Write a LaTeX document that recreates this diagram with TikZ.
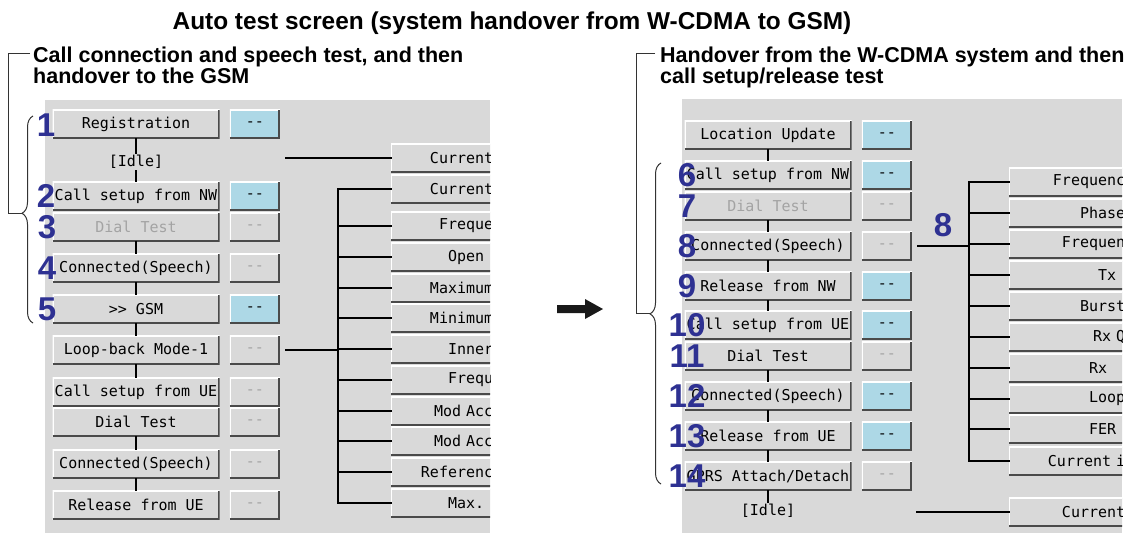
\documentclass[tikz,border=0pt]{standalone}
\usepackage{fontspec}
\setmainfont{Liberation Sans}
\newfontfamily\scrfont{DejaVu Sans Mono}
\usetikzlibrary{positioning}
\usetikzlibrary{decorations.pathreplacing}
\definecolor{panel}{HTML}{D9D9D9}
\definecolor{keyblue}{HTML}{ADD8E6}
\definecolor{keyshade}{HTML}{4A4A4A}
\definecolor{numblue}{HTML}{2E3192}
\definecolor{dimtext}{HTML}{A3A3A3}
\newcommand{\scrtxt}{\scrfont\fontsize{15}{15}\selectfont}
\newcommand{\numtxt}{\bfseries\fontsize{33}{33}\selectfont}
\newcommand{\headtxt}{\bfseries\fontsize{21.5}{25}\selectfont}
\newcommand{\titletxt}{\bfseries\fontsize{24.4}{28}\selectfont}
\newcommand{\dashes}{-\kern0pt-}
\newcommand{\gts}{>\kern0pt>}
\tikzset{
  bevel/.style = {path picture = {
      \draw [white, line width = 2.5pt] (path picture bounding box.south west) |- (path picture bounding box.north east);
      \draw [keyshade, line width = 3.5pt] (path picture bounding box.south west) -| (path picture bounding box.north east);}},
  key/.style = {bevel, fill = panel, minimum width = 167pt, minimum height = 29pt, inner sep = 0pt, font = \scrtxt},
  tag/.style = {bevel, fill = panel, minimum width = 50pt, minimum height = 29pt, inner sep = 0pt, font = \scrtxt, text = dimtext},
  tagon/.style = {tag, fill = keyblue, text = black},
  meas/.style = {bevel, fill = panel, anchor = west, minimum height = 29pt, inner xsep = 2pt, inner ysep = 0pt, text width = #1, align = right, font = \scrtxt},
  idle/.style = {inner sep = 2pt, font = \scrtxt},
  num/.style = {inner sep = 0pt, text = numblue, font = \numtxt},
  head/.style = {anchor = base west, inner sep = 0pt, font = \headtxt},
  link/.style = {line width = 2pt, line cap = rect},
  hand/.style = {line width = 1pt, black!80}
}

\begin{document}
\begin{tikzpicture}[x = 1pt, y = -1pt]
  \useasboundingbox (0, 0) rectangle (1136, 533);
  \fill [white] (0, 0) rectangle (1136, 533);
  \fill [panel] (45, 100) rectangle (490, 533);
  \fill [panel] (682, 99) rectangle (1122, 533);

  \node [anchor = base, inner sep = 0pt, font = \titletxt] (title) at (512, 29) {Auto test screen (system handover from W-CDMA to GSM)};
  \node [head] (heada) at (33, 62) {Call connection and speech test, and then};
  \node [head] (headab) at (33, 83) {handover to the GSM};
  \node [head] (headb) at (660, 62) {Handover from the W-CDMA system and then};
  \node [head] (headbb) at (660, 83) {call setup/release test};

  \node [key] (reg) at (136, 124) {Registration};
  \node [tagon, right = 10pt of reg] (regs) {\dashes};
  \node [idle] (idlea) at (136, 162) {[Idle]};
  \node [key] (nwa) at (136, 196) {Call setup from NW};
  \node [tagon, right = 10pt of nwa] (nwas) {\dashes};
  \node [key, text = dimtext] (diala) at (136, 227) {Dial Test};
  \node [tag, right = 10pt of diala] (dialas) {\dashes};
  \node [key] (conna) at (136, 268) {Connected(Speech)};
  \node [tag, right = 10pt of conna] (connas) {\dashes};
  \node [key] (gsm) at (136, 309) {\gts{} GSM};
  \node [tagon, right = 10pt of gsm] (gsms) {\dashes};
  \node [key] (loop) at (136, 350) {Loop-back Mode-1};
  \node [tag, right = 10pt of loop] (loops) {\dashes};
  \node [key] (uea) at (136, 392) {Call setup from UE};
  \node [tag, right = 10pt of uea] (ueas) {\dashes};
  \node [key] (dialb) at (136, 422) {Dial Test};
  \node [tag, right = 10pt of dialb] (dialbs) {\dashes};
  \node [key] (connb) at (136, 464) {Connected(Speech)};
  \node [tag, right = 10pt of connb] (connbs) {\dashes};
  \node [key] (relb) at (136, 505) {Release from UE};
  \node [tag, right = 10pt of relb] (relbs) {\dashes};

  \draw [link] (reg) -- (idlea);
  \draw [link] (idlea) -- (nwa);
  \draw [link] (diala) -- (conna);
  \draw [link] (conna) -- (gsm);
  \draw [link] (gsm) -- (loop);
  \draw [link] (loop) -- (uea);
  \draw [link] (dialb) -- (connb);
  \draw [link] (connb) -- (relb);

  \begin{scope}
    \clip (45, 100) rectangle (490, 533);
    \node [meas = 100pt] (ma1) at (391, 158) {Current};
    \node [meas = 100pt] (ma2) at (391, 189) {Current};
    \node [meas = 100pt] (ma3) at (391, 226) {Freque};
    \node [meas = 100pt] (ma4) at (391, 257) {Open\phantom{n}};
    \node [meas = 100pt] (ma5) at (391, 288) {Maximum};
    \node [meas = 100pt] (ma6) at (391, 318) {Minimum};
    \node [meas = 100pt] (ma7) at (391, 349) {Inner};
    \node [meas = 100pt] (ma8) at (391, 380) {Frequ};
    \node [meas = 100pt] (ma9) at (391, 411) {Mod Acc};
    \node [meas = 100pt] (ma10) at (391, 441) {Mod Acc};
    \node [meas = 100pt] (ma11) at (391, 472) {Referenc};
    \node [meas = 100pt] (ma12) at (391, 503) {Max.\phantom{n}};
  \end{scope}

  \coordinate (idleaend) at (286, 158);
  \coordinate (busa) at (338, 0);
  \draw [link] (idleaend) -- (ma1);
  \draw [link] (busa |- ma2.west) -- (busa |- ma12.west);
  \draw [link] (busa |- ma2.west) -- (ma2.west) (busa |- ma3.west) -- (ma3.west)
    (busa |- ma4.west) -- (ma4.west) (busa |- ma5.west) -- (ma5.west)
    (busa |- ma6.west) -- (ma6.west) (busa |- ma7.west) -- (ma7.west)
    (busa |- ma8.west) -- (ma8.west) (busa |- ma9.west) -- (ma9.west)
    (busa |- ma10.west) -- (ma10.west) (busa |- ma11.west) -- (ma11.west)
    (busa |- ma12.west) -- (ma12.west);
  \draw [link] ([xshift = 6pt] loops.east) -- (busa |- loops.east);

  \node [key] (lu) at (768, 135) {Location Update};
  \node [tagon, right = 10pt of lu] (lus) {\dashes};
  \node [key] (nwb) at (768, 175) {Call setup from NW};
  \node [tagon, right = 10pt of nwb] (nwbs) {\dashes};
  \node [key, text = dimtext] (dialc) at (768, 206) {Dial Test};
  \node [tag, right = 10pt of dialc] (dialcs) {\dashes};
  \node [key] (connc) at (768, 246) {Connected(Speech)};
  \node [tag, right = 10pt of connc] (conncs) {\dashes};
  \node [key] (relnw) at (768, 286) {Release from NW};
  \node [tagon, right = 10pt of relnw] (relnws) {\dashes};
  \node [key] (ueb) at (768, 325) {Call setup from UE};
  \node [tagon, right = 10pt of ueb] (uebs) {\dashes};
  \node [key] (diald) at (768, 356) {Dial Test};
  \node [tag, right = 10pt of diald] (dialds) {\dashes};
  \node [key] (connd) at (768, 396) {Connected(Speech)};
  \node [tagon, right = 10pt of connd] (connds) {\dashes};
  \node [key] (relue) at (768, 436) {Release from UE};
  \node [tagon, right = 10pt of relue] (relues) {\dashes};
  \node [key] (gprs) at (768, 476) {GPRS Attach/Detach};
  \node [tag, right = 10pt of gprs] (gprss) {\dashes};
  \node [idle] (idleb) at (768, 511) {[Idle]};

  \draw [link] (lu) -- (nwb);
  \draw [link] (dialc) -- (connc);
  \draw [link] (connc) -- (relnw);
  \draw [link] (relnw) -- (ueb);
  \draw [link] (diald) -- (connd);
  \draw [link] (connd) -- (relue);
  \draw [link] (relue) -- (gprs);
  \draw [link] (gprs) -- (idleb);

  \begin{scope}
    \clip (682, 99) rectangle (1122, 533);
    \node [meas = 114pt] (mb1) at (1009, 182) {Frequenc};
    \node [meas = 114pt] (mb2) at (1009, 213) {Phase};
    \node [meas = 114pt] (mb3) at (1009, 244) {Frequen};
    \node [meas = 114pt] (mb4) at (1009, 275) {Tx\phantom{n}};
    \node [meas = 114pt] (mb5) at (1009, 306) {Burst};
    \node [meas = 114pt] (mb6) at (1009, 337) {Rx Q};
    \node [meas = 114pt] (mb7) at (1009, 368) {Rx\phantom{nn}};
    \node [meas = 114pt] (mb8) at (1009, 399) {Loop};
    \node [meas = 114pt] (mb9) at (1009, 429) {FER\phantom{n}};
    \node [meas = 114pt] (mb10) at (1009, 461) {Current i};
    \node [meas = 114pt] (mb11) at (1009, 512) {Current};
  \end{scope}

  \coordinate (idlebend) at (917, 512);
  \coordinate (busb) at (969, 0);
  \draw [link] (idlebend) -- (mb11);
  \draw [link] (busb |- mb1.west) -- (busb |- mb10.west);
  \draw [link] (busb |- mb1.west) -- (mb1.west) (busb |- mb2.west) -- (mb2.west)
    (busb |- mb3.west) -- (mb3.west) (busb |- mb4.west) -- (mb4.west)
    (busb |- mb5.west) -- (mb5.west) (busb |- mb6.west) -- (mb6.west)
    (busb |- mb7.west) -- (mb7.west) (busb |- mb8.west) -- (mb8.west)
    (busb |- mb9.west) -- (mb9.west) (busb |- mb10.west) -- (mb10.west);
  \draw [link] ([xshift = 6pt] conncs.east) -- (busb |- conncs.east);

  \coordinate (headaend) at (30, 53);
  \coordinate (bracea) at (22, 213);
  \draw [hand] (headaend) -- (8, 53) |- (bracea);
  \draw [hand, decorate, decoration = {brace, amplitude = 11pt, aspect = 0.53}] (33, 323) -- (33, 116);
  \coordinate (headbend) at (655, 53);
  \coordinate (braceb) at (650, 313);
  \draw [hand] (headbend) -- (636, 53) |- (braceb);
  \draw [hand, decorate, decoration = {brace, amplitude = 11pt, aspect = 0.53}] (661, 484) -- (661, 163);

  \fill [black!90] (557, 305) -- (585, 305) -- (585, 299) -- (603, 309) -- (585, 319) -- (585, 313) -- (557, 313) -- cycle;

  \node [num] (n1) at (46, 125) {1};
  \node [num] (n2) at (46, 196) {2};
  \node [num] (n3) at (47, 227) {3};
  \node [num] (n4) at (47, 268) {4};
  \node [num] (n5) at (47, 309) {5};
  \node [num] (n6) at (687, 175) {6};
  \node [num] (n7) at (687, 206) {7};
  \node [num] (n8) at (687, 246) {8};
  \node [num] (n9) at (687, 286) {9};
  \node [num] (n10) at (687, 325) {10};
  \node [num] (n11) at (687, 356) {11};
  \node [num] (n12) at (687, 396) {12};
  \node [num] (n13) at (687, 436) {13};
  \node [num] (n14) at (687, 476) {14};
  \node [num] (n8b) at (943, 225) {8};
\end{tikzpicture}
\end{document}
